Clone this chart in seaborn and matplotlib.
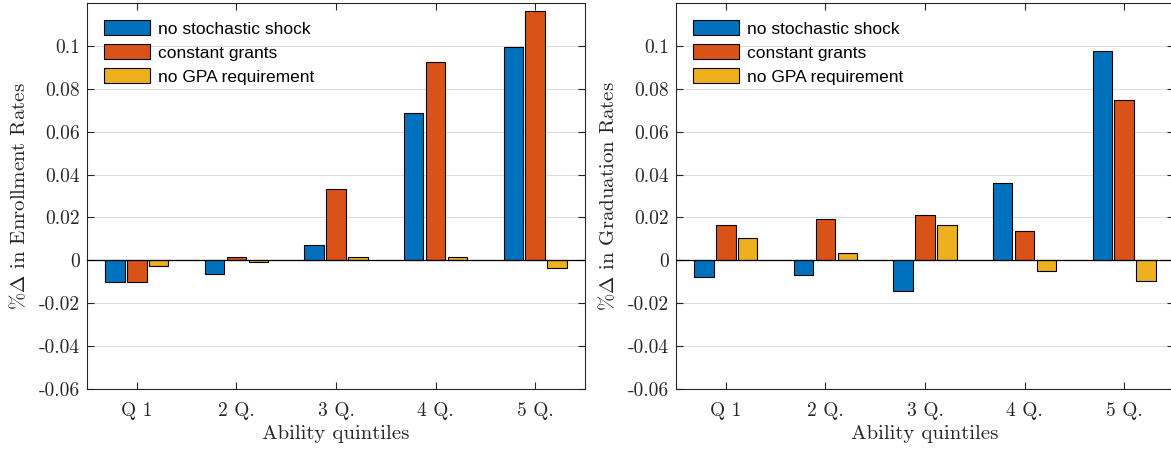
import numpy as np
import pandas as pd
import matplotlib
matplotlib.use("Agg")
import matplotlib.pyplot as plt
import seaborn as sns

# ---- data ----
quintiles = ["Q 1", "2 Q.", "3 Q.", "4 Q.", "5 Q."]
series_names = ["no stochastic shock", "constant grants", "no GPA requirement"]

enroll_no_shock = [-0.0099, -0.0065, 0.0070, 0.0688, 0.0997]
enroll_const_grants = [-0.0099, 0.0014, 0.0333, 0.0924, 0.1164]
enroll_no_gpa = [-0.0028, -0.0009, 0.0016, 0.0014, -0.0034]

grad_no_shock = [-0.0076, -0.0068, -0.0141, 0.0360, 0.0978]
grad_const_grants = [0.0166, 0.0191, 0.0212, 0.0138, 0.0746]
grad_no_gpa = [0.0104, 0.0033, 0.0163, -0.0051, -0.0095]

ytick_vals = [-0.06, -0.04, -0.02, 0, 0.02, 0.04, 0.06, 0.08, 0.1]
ytick_labels = ["-0.06", "-0.04", "-0.02", "0", "0.02", "0.04", "0.06", "0.08", "0.1"]

colors = ["#0072BD", "#D95319", "#EDB120"]
text_gray = "#262626"


def long_df(a, b, c):
    rows = []
    for name, vals in zip(series_names, [a, b, c]):
        for q, v in zip(quintiles, vals):
            rows.append({"quintile": q, "series": name, "value": v})
    return pd.DataFrame(rows)


sns.set_theme(style="white")
plt.rcParams["font.family"] = ["cmr10", "DejaVu Serif"]
plt.rcParams["mathtext.fontset"] = "cm"
plt.rcParams["axes.unicode_minus"] = False

fig = plt.figure(figsize=(11.71, 4.5), dpi=100)
W, H = 1171.0, 450.0
ax1 = fig.add_axes([87 / W, (H - 389) / H, 498 / W, 386 / H])
ax2 = fig.add_axes([676 / W, (H - 389) / H, 498 / W, 386 / H])

panels = [
    (ax1, long_df(enroll_no_shock, enroll_const_grants, enroll_no_gpa),
     r"$\%\Delta$ in Enrollment Rates"),
    (ax2, long_df(grad_no_shock, grad_const_grants, grad_no_gpa),
     r"$\%\Delta$ in Graduation Rates"),
]

for ax, df, ylab in panels:
    sns.barplot(data=df, x="quintile", y="value", hue="series",
                order=quintiles, hue_order=series_names, palette=colors,
                width=0.66, gap=0.11, errorbar=None, edgecolor="black",
                linewidth=0.8, saturation=1, ax=ax, zorder=3)
    ax.set_xlim(-0.5, 4.5)
    ax.set_ylim(-0.06, 0.12)
    ax.set_yticks(ytick_vals)
    ax.set_yticklabels(ytick_labels)
    ax.yaxis.grid(True, color="#dcdcdc", linewidth=0.8, zorder=0)
    ax.xaxis.grid(False)
    ax.set_axisbelow(True)
    ax.axhline(0, color="black", linewidth=0.9, zorder=4)
    for s in ax.spines.values():
        s.set_visible(True)
        s.set_color(text_gray)
        s.set_linewidth(0.8)
    ax.tick_params(axis="both", which="both", direction="in", length=5,
                   width=0.8, color=text_gray, labelcolor=text_gray,
                   top=True, right=True, bottom=True, left=True, labelsize=14)
    ax.tick_params(axis="x", pad=9)
    ax.tick_params(axis="y", pad=5)
    ax.set_xlabel("Ability quintiles", fontsize=15, color=text_gray, labelpad=4)
    ax.set_ylabel(ylab, fontsize=15, color=text_gray, labelpad=7)

    handles, labels = ax.get_legend_handles_labels()
    for h in handles:
        h.set_edgecolor("black")
        h.set_linewidth(0.8)
    ax.legend(handles, labels, loc="upper left", bbox_to_anchor=(0.0, 1.0),
              frameon=False, prop={"family": ["Liberation Sans"], "size": 12.5},
              handlelength=2.65, handleheight=1.0, labelspacing=0.42,
              handletextpad=0.49, borderaxespad=0.52, borderpad=0.45,
              labelcolor="black")

fig.savefig("out.png", dpi=100)
